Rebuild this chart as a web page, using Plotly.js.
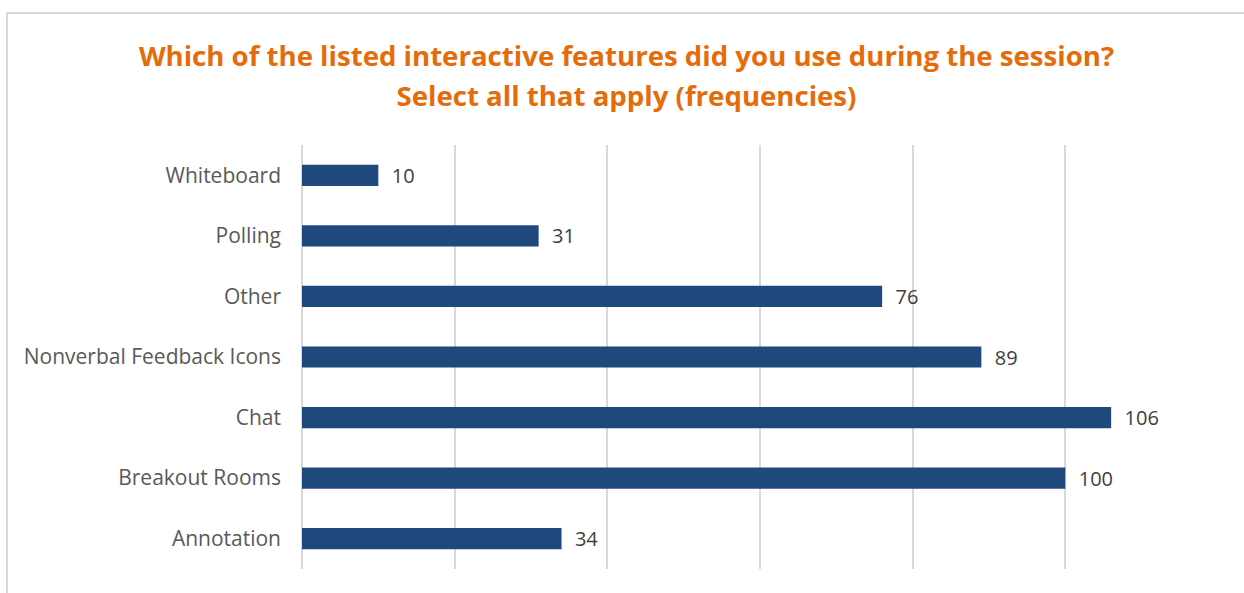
<!DOCTYPE html>
<html>
<head>
<meta charset="utf-8">
<script src="https://cdn.plot.ly/plotly-3.0.1.min.js"></script>
<style>html,body{margin:0;padding:0;background:#fff;}#chart{width:1244px;height:593px;}</style>
</head>
<body>
<div id="chart"></div>
<script>
const categories = ['Annotation', 'Breakout Rooms', 'Chat', 'Nonverbal Feedback Icons', 'Other', 'Polling', 'Whiteboard'];
const frequencies = [34, 100, 106, 89, 76, 31, 10];
const xTicks = [0, 20, 40, 60, 80, 100, 120];
const titleLines = ['Which of the listed interactive features did you use during the session?', 'Select all that apply (frequencies)'];

const trace = {
  type: 'bar',
  orientation: 'h',
  y: categories,
  x: frequencies,
  marker: {color: '#1F497D'},
  text: frequencies.map(v => '  ' + v),
  textposition: 'outside',
  constraintext: 'none',
  textfont: {family: 'Open Sans, sans-serif', size: 20, color: '#404040'},
  cliponaxis: false,
  hoverinfo: 'skip'
};

const layout = {
  width: 1244, height: 593,
  margin: {l: 302, r: 26, t: 145, b: 24},
  paper_bgcolor: '#ffffff', plot_bgcolor: '#ffffff',
  title: {
    text: titleLines.map(t => '<span style="font-size:27.6px"><b>' + t + '</b></span>').join('<br>'),
    font: {family: 'Open Sans, sans-serif', size: 30.8, color: '#E46C0A'},
    x: 0.5036, xanchor: 'center', xref: 'container',
    y: 1 - 66 / 593, yanchor: 'middle', yref: 'container'
  },
  bargap: 0.65,
  showlegend: false,
  xaxis: {
    range: [0, 120], tickvals: xTicks, showticklabels: false,
    showgrid: true, gridcolor: '#d9d9d9', gridwidth: 2,
    zeroline: true, zerolinecolor: '#d9d9d9', zerolinewidth: 2,
    showline: false, fixedrange: true
  },
  yaxis: {
    type: 'category', categoryorder: 'array', categoryarray: categories,
    showgrid: false, zeroline: false, showline: false,
    ticks: '', ticklabelstandoff: 20,
    tickfont: {family: 'Open Sans, sans-serif', size: 21, color: '#595959'},
    fixedrange: true
  },
  shapes: [{
    type: 'rect', xref: 'paper', yref: 'paper',
    x0: (7 - 302) / 916, x1: 2, y0: -1, y1: (569 - 13) / 424,
    line: {color: '#d9d9d9', width: 2}, fillcolor: 'rgba(0,0,0,0)', layer: 'below'
  }]
};

Plotly.newPlot('chart', [trace], layout, {displayModeBar: false, staticPlot: true});
</script>
</body>
</html>
